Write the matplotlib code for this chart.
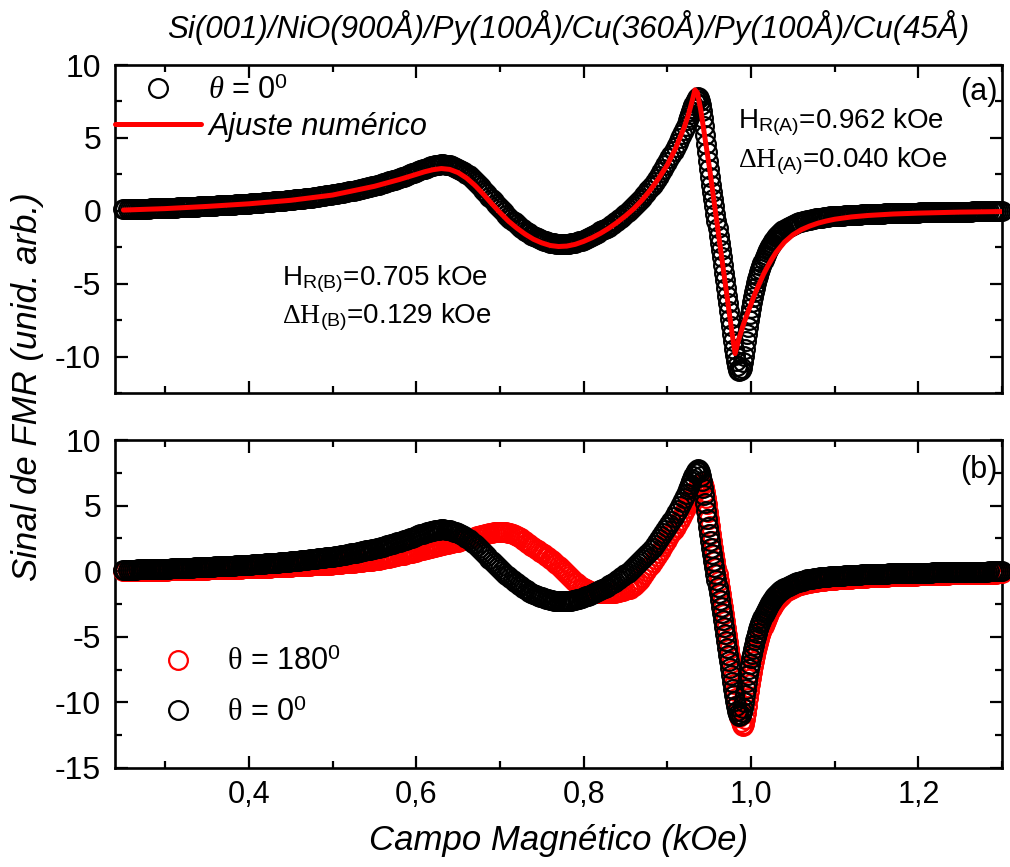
import matplotlib
matplotlib.use("Agg")
import matplotlib.pyplot as plt
from matplotlib.ticker import MultipleLocator, FuncFormatter
import numpy as np

# campo varrido (kOe): passo de 2.5 Oe, mais fino (1.25 Oe) em torno da linha estreita
field = np.round(np.concatenate([
    0.25 + 0.0025 * np.arange(270),     # 0.2500 .. 0.9225
    0.925 + 0.00125 * np.arange(92),    # 0.9250 .. 1.03875
    1.04 + 0.0025 * np.arange(105),     # 1.0400 .. 1.3000
]), 5)

# sinal FMR medido, theta = 0 graus
signal_0 = np.array([
    # 0.25 .. 0.9225
    0.10, 0.10, 0.11, 0.11, 0.11, 0.12, 0.12, 0.13, 0.13, 0.14, 0.14, 0.15, 0.15, 0.16, 0.16, 0.17, 0.17, 0.18, 0.18, 0.19,
    0.19, 0.20, 0.20, 0.21, 0.21, 0.22, 0.23, 0.23, 0.24, 0.25, 0.26, 0.26, 0.27, 0.28, 0.29, 0.29, 0.30, 0.31, 0.32, 0.32,
    0.33, 0.34, 0.35, 0.35, 0.36, 0.37, 0.38, 0.38, 0.39, 0.40, 0.41, 0.41, 0.42, 0.43, 0.44, 0.45, 0.46, 0.47, 0.48, 0.49,
    0.50, 0.51, 0.52, 0.53, 0.54, 0.55, 0.56, 0.58, 0.59, 0.60, 0.61, 0.63, 0.64, 0.65, 0.66, 0.68, 0.69, 0.70, 0.72, 0.73,
    0.75, 0.76, 0.78, 0.79, 0.81, 0.83, 0.84, 0.86, 0.88, 0.90, 0.91, 0.93, 0.95, 0.97, 0.99, 1.01, 1.03, 1.05, 1.07, 1.10,
    1.12, 1.14, 1.17, 1.19, 1.22, 1.25, 1.27, 1.30, 1.33, 1.36, 1.39, 1.42, 1.45, 1.48, 1.51, 1.55, 1.58, 1.61, 1.65, 1.68,
    1.72, 1.76, 1.80, 1.84, 1.88, 1.92, 1.96, 2.01, 2.05, 2.10, 2.14, 2.19, 2.24, 2.29, 2.34, 2.40, 2.45, 2.51, 2.56, 2.62,
    2.68, 2.74, 2.80, 2.85, 2.90, 2.95, 3.00, 3.04, 3.08, 3.11, 3.14, 3.16, 3.18, 3.18, 3.17, 3.15, 3.12, 3.08, 3.02, 2.96,
    2.90, 2.82, 2.74, 2.65, 2.55, 2.43, 2.31, 2.18, 2.05, 1.91, 1.76, 1.61, 1.45, 1.29, 1.13, 0.96, 0.80, 0.64, 0.49, 0.33,
    0.18, 0.03, -0.11, -0.26, -0.40, -0.54, -0.67, -0.80, -0.92, -1.04, -1.15, -1.26, -1.36, -1.46, -1.55, -1.64, -1.72, -1.80, -1.87, -1.94,
    -2.00, -2.05, -2.10, -2.14, -2.18, -2.21, -2.24, -2.26, -2.28, -2.29, -2.29, -2.29, -2.28, -2.26, -2.24, -2.21, -2.18, -2.14, -2.09, -2.04,
    -1.98, -1.92, -1.86, -1.79, -1.72, -1.65, -1.58, -1.50, -1.42, -1.34, -1.26, -1.17, -1.08, -0.98, -0.89, -0.79, -0.68, -0.57, -0.46, -0.34,
    -0.22, -0.10, 0.03, 0.16, 0.30, 0.44, 0.59, 0.74, 0.90, 1.07, 1.24, 1.42, 1.60, 1.80, 2.00, 2.21, 2.42, 2.65, 2.88, 3.11,
    3.35, 3.60, 3.86, 4.13, 4.40, 4.68, 4.96, 5.25, 5.55, 5.85,
    # 0.925 .. 1.03875
    6.25, 6.45, 6.65, 6.85,
    7.05, 7.25, 7.45, 7.60, 7.72, 7.78, 7.72, 7.55,
    7.25, 6.85, 6.35, 5.80, 5.20, 4.60, 4.00, 3.40,
    2.85, 2.30, 1.80, 1.30, 0.80, 0.30, -0.20, -0.70,
    -1.20, -1.70, -2.20, -2.70, -3.20, -3.72, -4.25, -4.78,
    -5.30, -5.82, -6.35, -6.88, -7.40, -7.92, -8.45, -8.95,
    -9.45, -9.90, -10.30, -10.65, -10.90, -11.00, -10.95, -10.75,
    -10.40, -9.95, -9.45, -8.95, -8.45, -7.95, -7.48, -7.05,
    -6.65, -6.28, -5.93, -5.60, -5.28, -4.98, -4.70, -4.44,
    -4.20, -3.97, -3.76, -3.56, -3.37, -3.19, -3.02, -2.86,
    -2.71, -2.57, -2.44, -2.32, -2.21, -2.10, -2.00, -1.91,
    -1.82, -1.74, -1.66, -1.59, -1.52, -1.46, -1.40, -1.35,
    # 1.04 .. 1.30
    -1.30, -1.21, -1.12, -1.04,
    -0.97, -0.91, -0.85, -0.80, -0.75, -0.71, -0.67, -0.63, -0.60, -0.57, -0.54, -0.52, -0.50, -0.48, -0.46, -0.44, -0.42, -0.41, -0.39, -0.38,
    -0.37, -0.36, -0.35, -0.34, -0.33, -0.32, -0.31, -0.30, -0.29, -0.28, -0.27, -0.26, -0.26, -0.25, -0.24, -0.23, -0.23, -0.22, -0.21, -0.21,
    -0.20, -0.20, -0.19, -0.19, -0.18, -0.18, -0.17, -0.17, -0.16, -0.16, -0.15, -0.15, -0.14, -0.14, -0.14, -0.13, -0.13, -0.13, -0.12, -0.12,
    -0.12, -0.11, -0.11, -0.11, -0.10, -0.10, -0.10, -0.09, -0.09, -0.09, -0.08, -0.08, -0.08, -0.08, -0.07, -0.07, -0.07, -0.07, -0.06, -0.06,
    -0.06, -0.06, -0.05, -0.05, -0.05, -0.05, -0.04, -0.04, -0.04, -0.04, -0.03, -0.03, -0.03, -0.03, -0.02, -0.02, -0.02, -0.02, -0.01, -0.01,
    0.00,
])

# sinal FMR medido, theta = 180 graus
signal_180 = np.array([
    # 0.25 .. 0.9225
    0.00, 0.00, 0.01, 0.01, 0.01, 0.01, 0.02, 0.02, 0.02, 0.02, 0.03, 0.03, 0.03, 0.03, 0.04, 0.04, 0.04, 0.04, 0.05, 0.05,
    0.05, 0.05, 0.06, 0.06, 0.07, 0.07, 0.08, 0.08, 0.08, 0.09, 0.09, 0.10, 0.10, 0.10, 0.11, 0.11, 0.11, 0.12, 0.12, 0.12,
    0.12, 0.13, 0.13, 0.14, 0.14, 0.15, 0.15, 0.16, 0.16, 0.17, 0.17, 0.18, 0.18, 0.19, 0.19, 0.20, 0.20, 0.21, 0.21, 0.22,
    0.22, 0.23, 0.23, 0.24, 0.24, 0.25, 0.26, 0.26, 0.27, 0.28, 0.28, 0.29, 0.30, 0.30, 0.31, 0.32, 0.32, 0.33, 0.34, 0.34,
    0.35, 0.36, 0.37, 0.37, 0.38, 0.39, 0.40, 0.41, 0.42, 0.43, 0.44, 0.45, 0.46, 0.47, 0.47, 0.48, 0.49, 0.50, 0.51, 0.51,
    0.52, 0.53, 0.55, 0.56, 0.57, 0.59, 0.60, 0.61, 0.63, 0.64, 0.66, 0.67, 0.69, 0.70, 0.72, 0.74, 0.75, 0.77, 0.78, 0.80,
    0.82, 0.85, 0.88, 0.92, 0.95, 0.98, 1.01, 1.04, 1.07, 1.10, 1.13, 1.17, 1.20, 1.24, 1.27, 1.31, 1.35, 1.39, 1.42, 1.46,
    1.50, 1.54, 1.59, 1.63, 1.67, 1.71, 1.75, 1.79, 1.83, 1.87, 1.91, 1.94, 1.98, 2.02, 2.05, 2.09, 2.12, 2.16, 2.19, 2.23,
    2.26, 2.30, 2.34, 2.38, 2.42, 2.46, 2.51, 2.55, 2.60, 2.65, 2.69, 2.74, 2.78, 2.82, 2.86, 2.90, 2.93, 2.96, 2.98, 2.99,
    3.00, 2.99, 2.97, 2.95, 2.92, 2.88, 2.82, 2.76, 2.70, 2.61, 2.51, 2.41, 2.30, 2.18, 2.06, 1.94, 1.82, 1.71, 1.60, 1.49,
    1.38, 1.28, 1.17, 1.06, 0.95, 0.82, 0.68, 0.54, 0.40, 0.25, 0.10, -0.05, -0.20, -0.35, -0.50, -0.65, -0.80, -0.93, -1.06, -1.18,
    -1.30, -1.37, -1.44, -1.50, -1.55, -1.59, -1.63, -1.66, -1.68, -1.69, -1.70, -1.70, -1.70, -1.69, -1.67, -1.65, -1.62, -1.58, -1.54, -1.50,
    -1.45, -1.39, -1.32, -1.24, -1.15, -1.00, -0.83, -0.64, -0.45, -0.23, 0.00, 0.22, 0.45, 0.68, 0.92, 1.16, 1.40, 1.65, 1.90, 2.15,
    2.40, 2.65, 2.90, 3.15, 3.40, 3.67, 3.94, 4.22, 4.50, 4.80,
    # 0.925 .. 1.03875
    5.10, 5.25, 5.40, 5.55,
    5.70, 5.85, 6.00, 6.15, 6.30, 6.43, 6.55, 6.66,
    6.74, 6.76, 6.65, 6.40, 6.05, 5.60, 5.10, 4.55,
    4.00, 3.42, 2.85, 2.30, 1.78, 1.26, 0.75, 0.25,
    -0.25, -0.75, -1.25, -1.75, -2.25, -2.76, -3.28, -3.80,
    -4.32, -4.85, -5.38, -5.92, -6.46, -7.00, -7.54, -8.08,
    -8.62, -9.15, -9.68, -10.18, -10.65, -11.10, -11.48, -11.75,
    -11.80, -11.62, -11.25, -10.78, -10.25, -9.70, -9.15, -8.62,
    -8.12, -7.65, -7.22, -6.82, -6.45, -6.10, -5.77, -5.46,
    -5.17, -4.90, -4.64, -4.40, -4.17, -3.96, -3.76, -3.57,
    -3.39, -3.22, -3.06, -2.91, -2.77, -2.64, -2.52, -2.41,
    -2.30, -2.20, -2.11, -2.02, -1.94, -1.86, -1.79, -1.72,
    # 1.04 .. 1.30
    -1.62, -1.51, -1.41, -1.32,
    -1.25, -1.19, -1.13, -1.08, -1.03, -0.99, -0.95, -0.91, -0.88, -0.85, -0.82, -0.80, -0.78, -0.76, -0.74, -0.72, -0.70, -0.69, -0.67, -0.66,
    -0.64, -0.63, -0.62, -0.61, -0.60, -0.59, -0.58, -0.57, -0.56, -0.55, -0.54, -0.53, -0.52, -0.51, -0.50, -0.49, -0.48, -0.47, -0.46, -0.45,
    -0.45, -0.44, -0.43, -0.43, -0.42, -0.41, -0.40, -0.40, -0.39, -0.38, -0.38, -0.37, -0.36, -0.36, -0.35, -0.35, -0.34, -0.34, -0.33, -0.33,
    -0.32, -0.32, -0.31, -0.31, -0.30, -0.30, -0.29, -0.29, -0.28, -0.28, -0.27, -0.27, -0.27, -0.26, -0.26, -0.25, -0.25, -0.25, -0.24, -0.24,
    -0.23, -0.23, -0.23, -0.22, -0.22, -0.22, -0.21, -0.21, -0.21, -0.20, -0.20, -0.20, -0.19, -0.19, -0.19, -0.18, -0.18, -0.18, -0.17, -0.17,
    -0.17,
])

# ajuste numerico (duas linhas: A e B)
fit_field = [0.25, 0.30, 0.35, 0.40, 0.45, 0.50, 0.55, 0.58, 0.60,
             0.61, 0.62, 0.63, 0.64, 0.65, 0.66, 0.67, 0.68, 0.69, 0.70,
             0.71, 0.72, 0.73, 0.74, 0.75, 0.76, 0.77, 0.78, 0.79, 0.80,
             0.81, 0.82, 0.83, 0.84, 0.85, 0.86, 0.87, 0.88, 0.89, 0.90,
             0.91, 0.92, 0.925, 0.93, 0.933, 0.936, 0.940, 0.945, 0.951, 0.955,
             0.960, 0.965, 0.970, 0.975, 0.978, 0.981, 0.985, 0.990, 0.995, 1.000,
             1.005, 1.010, 1.015, 1.020, 1.025, 1.030, 1.040, 1.050, 1.060, 1.070,
             1.080, 1.090, 1.100, 1.120, 1.140, 1.170, 1.200, 1.250, 1.300]
fit_signal = [0.05, 0.15, 0.30, 0.48, 0.72, 1.08, 1.68, 2.15, 2.50,
              2.68, 2.82, 2.90, 2.84, 2.62, 2.25, 1.75, 1.15, 0.50, -0.12,
              -0.70, -1.18, -1.60, -1.95, -2.20, -2.38, -2.45, -2.42, -2.30, -2.10,
              -1.85, -1.55, -1.20, -0.80, -0.35, 0.15, 0.75, 1.45, 2.25, 3.15,
              4.30, 5.70, 6.55, 7.60, 8.30, 8.10, 6.90, 5.00, 2.70, 1.00,
              -1.10, -3.20, -5.30, -7.40, -8.65, -9.80, -8.90, -7.95, -7.15, -6.40,
              -5.65, -5.00, -4.35, -3.80, -3.30, -2.85, -2.15, -1.65, -1.30, -1.05,
              -0.85, -0.70, -0.58, -0.42, -0.32, -0.22, -0.16, -0.09, -0.05]

assert len(signal_0) == len(field) and len(signal_180) == len(field)
assert len(fit_field) == len(fit_signal)

plt.rcParams['font.family'] = ['Liberation Sans', 'DejaVu Sans']
plt.rcParams['axes.unicode_minus'] = False
plt.rcParams['mathtext.fontset'] = 'custom'
plt.rcParams['mathtext.rm'] = 'Liberation Serif'
plt.rcParams['mathtext.it'] = 'Liberation Serif:italic'
plt.rcParams['mathtext.bf'] = 'Liberation Serif:bold'
plt.rcParams['mathtext.sf'] = 'Liberation Sans'

fig = plt.figure(figsize=(10.1, 8.67), dpi=100)
ax1 = fig.add_axes([0.1139, 0.5467, 0.8782, 0.3783])
ax2 = fig.add_axes([0.1139, 0.1142, 0.8782, 0.3783], sharex=ax1)

mk = dict(marker='o', ms=13.5, mfc='none', mew=1.6, ls='none', clip_on=False)

# (a) medida + ajuste
ax1.plot(field, signal_0, color='black', label=r'$\theta$ = 0$^{\mathsf{0}}$', zorder=3, **mk)
ax1.plot(fit_field, fit_signal, color='red', lw=3.6, label='Ajuste numérico', zorder=4,
         solid_joinstyle='round', solid_capstyle='round')

# (b) theta = 180 vs theta = 0
ax2.plot(field, signal_180, color='red', label=r'$\mathrm{\theta}$ = 180$^{\mathsf{0}}$', zorder=3, **mk)
ax2.plot(field, signal_0, color='black', label=r'$\mathrm{\theta}$ = 0$^{\mathsf{0}}$', zorder=4, **mk)

ax1.set_xlim(0.24, 1.30)
ax1.set_ylim(-12.5, 10)
ax2.set_ylim(-15, 10)

for ax in (ax1, ax2):
    ax.xaxis.set_major_locator(MultipleLocator(0.2))
    ax.xaxis.set_minor_locator(MultipleLocator(0.1))
    ax.yaxis.set_major_locator(MultipleLocator(5))
    ax.yaxis.set_minor_locator(MultipleLocator(2.5))
    ax.tick_params(which='both', direction='in', top=True, right=True, width=1.6)
    ax.tick_params(which='major', length=9)
    ax.tick_params(which='minor', length=5)
    ax.tick_params(axis='y', labelsize=23, pad=10)
    for s in ax.spines.values():
        s.set_linewidth(1.9)

ax1.tick_params(axis='x', labelbottom=False)
ax2.tick_params(axis='x', labelsize=22, pad=9)
ax2.xaxis.set_major_formatter(FuncFormatter(lambda v, p: f'{v:.1f}'.replace('.', ',')))

leg1 = ax1.legend(loc='upper left', bbox_to_anchor=(-0.012, 1), borderaxespad=0, borderpad=0.35,
                  frameon=False, fontsize=22, handlelength=2.8, handletextpad=0.25,
                  labelspacing=0.2)
leg1.get_texts()[1].set_fontstyle('italic')

ax2.legend(loc='lower left', bbox_to_anchor=(0.0365, 0.122), borderaxespad=0, borderpad=0,
           frameon=False, fontsize=22, handlelength=2.0, handletextpad=0.6,
           labelspacing=0.68)

ax1.text(0.995, 0.965, '(a)', transform=ax1.transAxes, ha='right', va='top', fontsize=22)
ax2.text(0.995, 0.955, '(b)', transform=ax2.transAxes, ha='right', va='top', fontsize=22)

ax1.text(0.984, 5.68, r'H$_{\mathsf{R(A)}}$=0.962 kOe', fontsize=20, va='baseline')
ax1.text(0.984, 3.0, r'$\Delta\mathrm{H}_{\mathsf{(A)}}$=0.040 kOe', fontsize=20, va='baseline')
ax1.text(0.44, -5.07, r'H$_{\mathsf{R(B)}}$=0.705 kOe', fontsize=20, va='baseline')
ax1.text(0.44, -7.67, r'$\Delta\mathrm{H}_{\mathsf{(B)}}$=0.129 kOe', fontsize=20, va='baseline')

fig.text(0.563, 0.968, 'Si(001)/NiO(900Å)/Py(100Å)/Cu(360Å)/Py(100Å)/Cu(45Å)',
         ha='center', va='center', fontsize=22.5, style='italic')
ax2.set_xlabel('Campo Magnético (kOe)', fontsize=25, style='italic', labelpad=10)
fig.text(0.0277, 0.5536, 'Sinal de FMR (unid. arb.)', rotation=90, ha='center', va='center',
         fontsize=25, style='italic')

fig.savefig('out.png', dpi=100)
